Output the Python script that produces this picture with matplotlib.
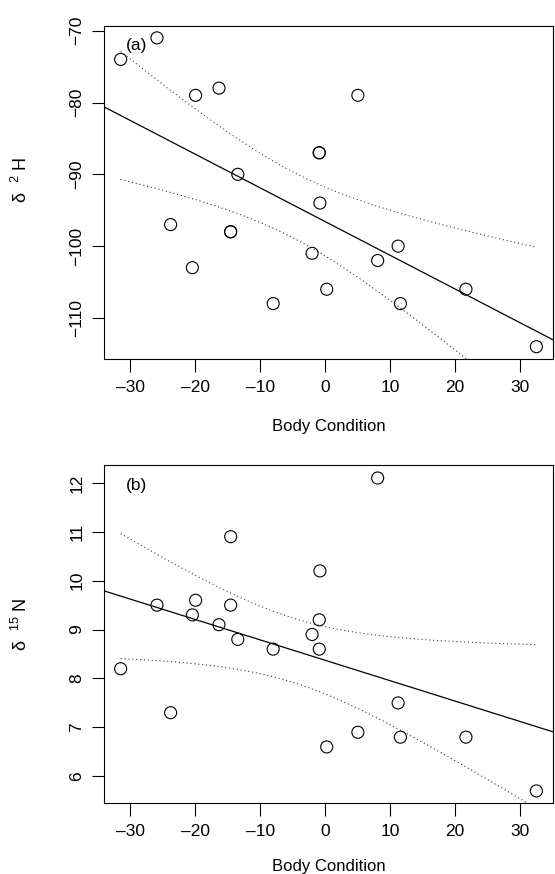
import numpy as np
import matplotlib
matplotlib.use("Agg")
import matplotlib.pyplot as plt

# body condition index (same birds in both panels)
body_cond = [-31.5, -25.9, -19.95, -16.35, 5.05, -0.9, -0.9, -13.45, -0.8, -23.8,
             -14.55, -14.55, 11.25, -2.0, -20.45, 8.1, 0.25, 21.7, -8.0, 11.6, 32.55]
# feather isotopes
d2H = [-74, -71, -79, -78, -79, -87, -87, -90, -94, -97,
       -98, -98, -100, -101, -103, -102, -106, -106, -108, -108, -114]
d15N = [8.2, 9.5, 9.6, 9.1, 6.9, 9.2, 8.6, 8.8, 10.2, 7.3,
        10.9, 9.5, 7.5, 8.9, 9.3, 12.1, 6.6, 6.8, 8.6, 6.8, 5.7]

T_975 = 2.093  # t quantile, df = 19

plt.rcParams["font.family"] = ["Liberation Sans", "DejaVu Sans"]
plt.rcParams["mathtext.fontset"] = "custom"
plt.rcParams["mathtext.rm"] = "Liberation Sans"


def fit_panel(ax, x, y, ylab, tag, label_y, xpad):
    x = np.asarray(x, float)
    y = np.asarray(y, float)
    ax.scatter(x, y, s=75, facecolors="none", edgecolors="black", linewidths=0.8, zorder=3)
    ax.margins(0.04)
    ax.set_xlim(ax.get_xlim())
    ax.set_ylim(ax.get_ylim())

    # ordinary least squares + 95% confidence band of the mean
    b1, b0 = np.polyfit(x, y, 1)
    n = len(x)
    resid = y - (b0 + b1 * x)
    s = np.sqrt(np.sum(resid ** 2) / (n - 2))
    xs = np.linspace(x.min(), x.max(), 200)
    se = s * np.sqrt(1 / n + (xs - x.mean()) ** 2 / np.sum((x - x.mean()) ** 2))
    fit = b0 + b1 * xs
    ax.axline((0, b0), slope=b1, color="black", lw=0.9)
    ax.plot(xs, fit + T_975 * se, ls=(0, (1, 2.5)), color="#444444", lw=0.8)
    ax.plot(xs, fit - T_975 * se, ls=(0, (1, 2.5)), color="#333333", lw=0.8)

    ax.set_xticks([-30, -20, -10, 0, 10, 20, 30])
    ax.set_xticklabels(["\u201330", "\u201320", "\u201310", "0", "10", "20", "30"])
    ax.tick_params(length=9, width=0.8, labelsize=12.5, pad=6)
    ax.tick_params(axis="y", pad=5)
    for sp in ax.spines.values():
        sp.set_linewidth(0.8)
    ax.set_xlabel("Body Condition", fontsize=12, labelpad=xpad)
    ax.set_ylabel(ylab, fontsize=13, va="center")
    ax.yaxis.set_label_coords(-0.185, label_y)
    ax.text(0.072, 0.94, tag, transform=ax.transAxes, fontsize=12.5,
            ha="center", va="center")


fig = plt.figure(figsize=(5.55, 8.74), dpi=100)
ax1 = fig.add_axes([0.1874, 0.5892, 0.809, 0.3816])
ax2 = fig.add_axes([0.1874, 0.0807, 0.809, 0.3867])

fit_panel(ax1, body_cond, d2H, "\u03b4  $^{2}$ H", "(a)", 0.538, 17.5)
ax1.set_yticks([-110, -100, -90, -80, -70])
ax1.set_yticklabels(["\u2212110", "\u2212100", "\u221290", "\u221280", "\u221270"],
                    rotation=90, va="center")

fit_panel(ax2, body_cond, d15N, "\u03b4  $^{15}$ N", "(b)", 0.53, 14.5)
ax2.set_yticks([6, 7, 8, 9, 10, 11, 12])
ax2.set_yticklabels(["6", "7", "8", "9", "10", "11", "12"], rotation=90, va="center")

fig.savefig("out.png", dpi=100)
